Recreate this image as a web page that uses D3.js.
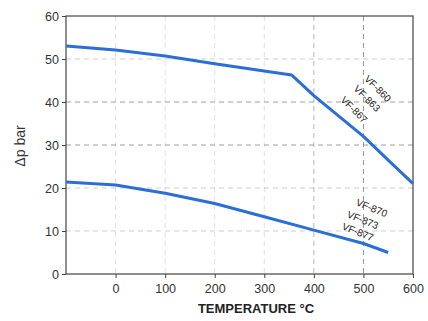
<!DOCTYPE html>
<html lang="en">
<head>
<meta charset="UTF-8">
<title>Δp vs Temperature</title>
<script src="https://d3js.org/d3.v7.min.js"></script>
<style>
    body { margin: 0; background: #fff; }
    svg { display: block; font-family: "Liberation Sans", Arial, sans-serif; }
    .tick text { fill: #333; font-size: 12.5px; }
    .axis path, .axis line { stroke: #444; }
    .grid line { stroke: #888; stroke-dasharray: 5 4; }
    .curve { fill: none; stroke: #2a6ed8; stroke-width: 3; stroke-linejoin: round; }
    .tag { font-size: 10px; fill: #222; }
</style>
</head>
<body>
<svg id="chart"></svg>
<script>
// upper curve (VF-860 / 863 / 867)
const upperTemps = [-100, 0, 100, 200, 355, 400, 500, 550, 600];
const upperDp    = [53.0, 52.1, 50.7, 48.9, 46.3, 41.5, 32.0, 26.5, 21.0];
// lower curve (VF-870 / 873 / 877)
const lowerTemps = [-100, 0, 100, 200, 300, 400, 500, 550];
const lowerDp    = [21.4, 20.7, 18.8, 16.4, 13.3, 10.2, 7.1, 5.0];

const xTicks = [0, 100, 200, 300, 400, 500, 600];
const yTicks = [0, 10, 20, 30, 40, 50, 60];

const upperNames = ["VF-860", "VF-863", "VF-867"];
const upperTagT  = [528, 506, 480];
const upperTagV  = [43.0, 40.7, 38.1];
const lowerNames = ["VF-870", "VF-873", "VF-877"];
const lowerTagT  = [516, 498, 488];
const lowerTagV  = [15.2, 12.4, 9.6];

const W = 428, H = 321;
const margin = { top: 16, right: 15, bottom: 47, left: 66 };
const width = W - margin.left - margin.right;
const height = H - margin.top - margin.bottom;

const svg = d3.select("#chart").attr("width", W).attr("height", H);
const g = svg.append("g").attr("transform", `translate(${margin.left},${margin.top})`);

const x = d3.scaleLinear().domain([-100, 600]).range([0, width]);
const y = d3.scaleLinear().domain([0, 60]).range([height, 0]);

// dashed grid
g.append("g").attr("class", "grid")
    .selectAll("line").data(yTicks.filter(v => v > 0 && v < 60)).enter()
    .append("line")
    .attr("x1", 0).attr("x2", width)
    .attr("y1", d => y(d)).attr("y2", d => y(d))
    .attr("stroke-opacity", d => (d === 30 || d === 40) ? 0.8 : 0.4);

g.append("g").attr("class", "grid")
    .selectAll("line").data(xTicks.filter(v => v < 600)).enter()
    .append("line")
    .attr("y1", 0).attr("y2", height)
    .attr("x1", d => x(d)).attr("x2", d => x(d))
    .attr("stroke-opacity", d => d === 500 ? 0.9 : (d === 400 ? 0.6 : 0.25));

// frame
g.append("rect")
    .attr("width", width).attr("height", height)
    .attr("fill", "none").attr("stroke", "#444").attr("stroke-width", 1.2);

// axes
g.append("g").attr("class", "axis")
    .attr("transform", `translate(0,${height})`)
    .call(d3.axisBottom(x).tickValues(xTicks).tickSize(4).tickPadding(6).tickSizeOuter(0));

g.append("g").attr("class", "axis")
    .call(d3.axisLeft(y).tickValues(yTicks).tickSize(4).tickPadding(3).tickSizeOuter(0));

g.selectAll(".axis .domain").remove();

// curves
const line = d3.line().x(d => x(d[0])).y(d => y(d[1]));
g.append("path").attr("class", "curve")
    .attr("d", line(d3.zip(upperTemps, upperDp)));
g.append("path").attr("class", "curve")
    .attr("d", line(d3.zip(lowerTemps, lowerDp)));

// rotated curve tags
function tags(names, ts, vs, angle) {
    names.forEach((n, i) => {
        const px = x(ts[i]), py = y(vs[i]);
        g.append("text").attr("class", "tag")
            .attr("text-anchor", "middle")
            .attr("dominant-baseline", "middle")
            .attr("transform", `translate(${px},${py}) rotate(${angle})`)
            .text(n);
    });
}
tags(upperNames, upperTagT, upperTagV, 45);
tags(lowerNames, lowerTagT, lowerTagV, 22);

// axis titles
svg.append("text")
    .attr("x", 256).attr("y", 313)
    .attr("text-anchor", "middle")
    .attr("font-size", 13).attr("font-weight", "bold").attr("fill", "#222")
    .text("TEMPERATURE °C");

svg.append("text")
    .attr("transform", "translate(25,146) rotate(-90)")
    .attr("text-anchor", "middle")
    .attr("font-size", 14).attr("fill", "#333")
    .text("Δp bar");
</script>
</body>
</html>
